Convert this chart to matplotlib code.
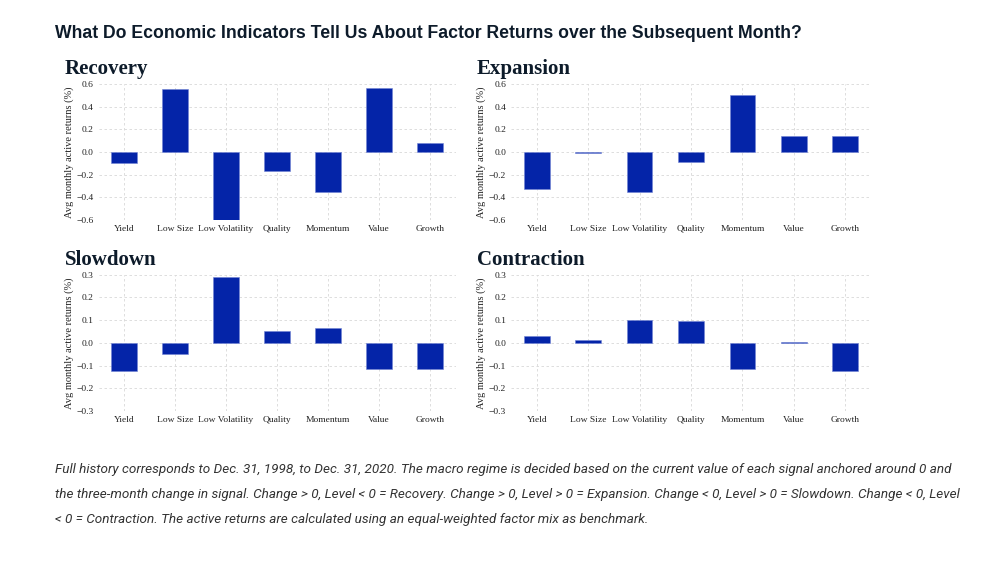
import numpy as np
import matplotlib
matplotlib.use('Agg')
import matplotlib.pyplot as plt

factors = ['Yield', 'Low Size', 'Low Volatility', 'Quality', 'Momentum', 'Value', 'Growth']

recovery = [-0.095, 0.555, -0.60, -0.171, -0.349, 0.561, 0.083]
expansion = [-0.326, -0.012, -0.353, -0.088, 0.506, 0.144, 0.138]
slowdown = [-0.122, -0.051, 0.291, 0.050, 0.065, -0.113, -0.113]
contraction = [0.029, 0.013, 0.100, 0.097, -0.116, 0.004, -0.126]

panels = [('Recovery', recovery, 0.6),
          ('Expansion', expansion, 0.6),
          ('Slowdown', slowdown, 0.3),
          ('Contraction', contraction, 0.3)]

# axes boxes in figure fractions [left, bottom, width, height]
boxes = [[0.0985, 0.6085, 0.357, 0.242],
         [0.511, 0.6085, 0.360, 0.242],
         [0.0985, 0.2687, 0.357, 0.2425],
         [0.511, 0.2687, 0.360, 0.2425]]

serif = 'Liberation Serif'
bar_c = '#0424A8'

fig = plt.figure(figsize=(10, 5.62), dpi=100)

for (name, vals, lim), box in zip(panels, boxes):
    ax = fig.add_axes(box)
    x = np.arange(len(factors))
    ax.bar(x, vals, width=0.5, color=bar_c, edgecolor='#7284d4', linewidth=0.4, zorder=3)
    ax.set_xlim(-0.5, 6.5)
    ax.set_ylim(-lim, lim)
    step = lim / 3
    ax.set_yticks(np.round(np.arange(-3, 4) * step, 2))
    ax.set_yticklabels(['{:.1f}'.format(v).replace('-', '\u2212') for v in np.arange(-3, 4) * step])
    ax.set_xticks(x)
    ax.set_xticklabels(factors)
    for lab in ax.get_xticklabels() + ax.get_yticklabels():
        lab.set_fontfamily(serif)
        lab.set_fontsize(6.8)
        lab.set_color('#222222')
    ax.tick_params(length=0, pad=3.5)
    ax.grid(True, ls=(0, (3, 3)), lw=0.6, color='#d8d8d8', zorder=0)
    for s in ax.spines.values():
        s.set_visible(False)
    ax.set_ylabel('Avg monthly active returns (%)', fontfamily=serif, fontsize=7.5,
                  color='#222222', labelpad=2)
    ax.text(-0.095, 1.07, name, transform=ax.transAxes, fontfamily=serif,
            fontweight='bold', fontsize=15, color='#0d1b2a', va='baseline', ha='left')

fig.text(0.055, 0.94, 'What Do Economic Indicators Tell Us About Factor Returns over the Subsequent Month?',
         fontfamily='Liberation Sans', fontweight='bold', fontsize=12.7, color='#0d1b2a',
         va='center', ha='left')

note = ['Full history corresponds to Dec. 31, 1998, to Dec. 31, 2020. The macro regime is decided based on the current value of each signal anchored around 0 and',
        'the three-month change in signal. Change > 0, Level < 0 = Recovery. Change > 0, Level > 0 = Expansion. Change < 0, Level > 0 = Slowdown. Change < 0, Level',
        '< 0 = Contraction. The active returns are calculated using an equal-weighted factor mix as benchmark.']
for i, line in enumerate(note):
    fig.text(0.055, 1 - (470 + i * 24.5) / 562, line, fontfamily='Roboto', style='italic',
             fontsize=9.7, color='#333333', va='center', ha='left')

fig.savefig('out.png', dpi=100)
